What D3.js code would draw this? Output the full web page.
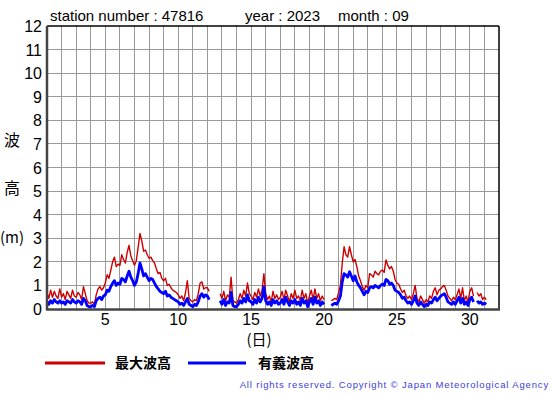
<!DOCTYPE html>
<html><head><meta charset="utf-8">
<script src="https://cdn.jsdelivr.net/npm/d3@7"></script>
<style>body{margin:0;background:#fff;}svg{display:block;font-family:"Liberation Sans",Arial,sans-serif;}</style>
</head><body>
<script>
// 3-hourly values starting day 1 00h (null = missing)
const startDay = 1, stepDays = 0.125;
const maxWave = [
 0.70,0.45,0.80,0.50,0.75,0.55,0.45,0.85,
 0.50,0.65,0.40,0.75,0.60,0.45,0.80,0.55,
 0.50,0.70,0.60,0.40,0.95,0.65,0.35,0.25,
 0.25,0.30,0.20,0.60,0.85,0.95,0.80,0.90,
 1.10,1.45,1.30,1.65,2.00,2.20,1.80,1.90,
 1.85,2.30,2.10,1.95,2.40,2.70,2.25,2.05,
 1.85,2.05,2.60,3.20,2.90,2.45,2.50,2.30,
 2.15,2.20,2.05,1.95,1.70,1.50,1.55,1.30,
 1.20,1.30,1.00,1.05,0.90,0.80,0.75,0.70,
 0.60,0.45,0.55,0.35,0.70,1.20,0.45,0.35,
 0.30,0.40,0.35,0.65,1.10,1.15,0.85,0.90,
 0.90,0.75,null,null,null,null,null,0.65,
 0.45,0.75,0.35,0.60,0.50,1.35,0.35,0.30,
 0.25,0.40,0.65,0.45,0.80,0.55,1.10,0.65,
 0.55,0.40,0.70,0.50,0.85,0.55,0.80,1.50,
 0.65,0.40,0.55,0.30,0.75,0.45,0.60,0.40,
 0.50,0.75,0.40,0.80,0.55,0.30,0.65,0.45,
 0.80,0.45,0.55,0.35,0.80,0.45,0.65,0.25,
 0.55,0.80,0.40,0.85,0.45,0.65,0.35,0.55,
 0.40,null,0.45,null,0.35,0.40,0.45,0.40,
 0.70,1.00,1.95,2.64,2.30,2.20,2.64,2.30,
 2.00,2.10,1.80,1.40,1.20,0.95,0.80,1.00,
 0.90,1.50,1.45,1.35,1.60,1.50,1.45,1.60,
 1.65,1.55,2.08,1.85,1.70,1.80,1.60,1.25,
 1.10,1.05,0.85,0.70,0.80,0.55,0.45,0.55,
 0.40,0.65,1.00,0.45,0.30,0.55,0.40,0.25,
 0.40,0.30,0.55,0.45,0.75,0.90,0.60,0.80,
 0.85,0.95,1.00,0.80,0.55,0.45,0.35,0.50,
 0.40,0.60,0.85,0.45,0.90,0.35,0.55,0.30,
 0.75,0.90,0.55,null,0.70,0.55,0.65,0.40,
 0.50,0.40
];
const sigWave = [
 0.30,0.20,0.35,0.25,0.40,0.30,0.25,0.35,
 0.25,0.30,0.20,0.35,0.30,0.25,0.40,0.30,
 0.25,0.35,0.30,0.20,0.45,0.35,0.15,0.10,
 0.10,0.15,0.10,0.35,0.45,0.50,0.40,0.55,
 0.60,0.80,0.75,0.95,1.10,1.20,1.00,1.10,
 1.05,1.30,1.25,1.15,1.40,1.60,1.35,1.20,
 1.00,1.15,1.50,1.95,1.70,1.40,1.50,1.35,
 1.20,1.30,1.25,1.10,0.95,0.85,0.75,0.70,
 0.65,0.75,0.55,0.60,0.50,0.45,0.40,0.35,
 0.30,0.20,0.25,0.15,0.30,0.45,0.20,0.15,
 0.10,0.20,0.15,0.30,0.55,0.65,0.50,0.60,
 0.55,0.40,null,null,null,null,null,0.35,
 0.20,0.40,0.15,0.30,0.25,0.70,0.15,0.10,
 0.10,0.20,0.35,0.25,0.45,0.30,0.60,0.35,
 0.30,0.20,0.40,0.25,0.50,0.30,0.45,0.95,
 0.35,0.20,0.30,0.15,0.40,0.25,0.35,0.20,
 0.25,0.40,0.20,0.50,0.30,0.15,0.35,0.25,
 0.40,0.20,0.30,0.15,0.45,0.25,0.35,0.10,
 0.30,0.45,0.20,0.50,0.25,0.35,0.15,0.30,
 0.20,null,0.25,null,0.15,0.20,0.25,0.20,
 0.35,0.55,1.15,1.50,1.45,1.35,1.58,1.40,
 1.20,1.40,1.15,1.00,0.90,0.75,0.60,0.75,
 0.70,0.90,0.95,0.90,1.00,0.95,0.90,1.00,
 1.05,1.00,1.25,1.20,1.05,1.10,1.00,0.80,
 0.75,0.70,0.60,0.45,0.50,0.35,0.25,0.30,
 0.20,0.35,0.55,0.25,0.15,0.30,0.20,0.10,
 0.20,0.15,0.30,0.25,0.40,0.50,0.35,0.45,
 0.55,0.60,0.65,0.50,0.30,0.25,0.20,0.30,
 0.20,0.35,0.50,0.25,0.45,0.20,0.30,0.15,
 0.40,0.50,0.30,null,0.35,0.25,0.30,0.20,
 0.25,0.20
];
const yTicks = [0,1,2,3,4,5,6,7,8,9,10,11,12];
const xTickLabels = [5,10,15,20,25,30];
const seriesNames = ["最大波高","有義波高"];
const seriesColors = ["#cc0000","#0000ff"];
const titleParts = ["station number : 47816","year : 2023","month : 09"];

const W=555,H=395;
const svg=d3.select("body").append("svg").attr("width",W).attr("height",H);
const x=d3.scaleLinear().domain([1,32]).range([47,499]);
const y=d3.scaleLinear().domain([0,12]).range([309,26]);

// grid
const g=svg.append("g");
g.selectAll("line.v").data(d3.range(2,32)).enter().append("line")
 .attr("x1",d=>x(d)).attr("x2",d=>x(d)).attr("y1",y(12)).attr("y2",y(0))
 .attr("stroke","#999").attr("stroke-width",1).attr("shape-rendering","crispEdges");
g.selectAll("line.h").data(yTicks.slice(1,-1)).enter().append("line")
 .attr("x1",x(1)).attr("x2",x(32)).attr("y1",d=>y(d)).attr("y2",d=>y(d))
 .attr("stroke","#999").attr("stroke-width",1).attr("shape-rendering","crispEdges");

// frame
svg.append("line").attr("x1",x(1)).attr("x2",x(32)).attr("y1",y(12)).attr("y2",y(12)).attr("stroke","#000").attr("stroke-width",1.5);
svg.append("line").attr("x1",x(32)).attr("x2",x(32)).attr("y1",y(12)).attr("y2",y(0)).attr("stroke","#000").attr("stroke-width",1.5);

// data
const pts = arr => arr.map((v,i)=>({t:startDay+i*stepDays,v}));
const line=d3.line().defined(d=>d.v!==null).x(d=>x(d.t)).y(d=>y(d.v));
svg.append("path").datum(pts(maxWave)).attr("d",line).attr("fill","none")
 .attr("stroke",seriesColors[0]).attr("stroke-width",1.4).attr("stroke-linejoin","round");
svg.append("path").datum(pts(sigWave)).attr("d",line).attr("fill","none")
 .attr("stroke",seriesColors[1]).attr("stroke-width",2.8).attr("stroke-linejoin","round");

// axes
svg.append("line").attr("x1",x(1)).attr("x2",x(1)).attr("y1",y(12)).attr("y2",y(0)+1).attr("stroke","#444").attr("stroke-width",2.5);
svg.append("line").attr("x1",x(1)-1).attr("x2",x(32)+1).attr("y1",y(0)+0.5).attr("y2",y(0)+0.5).attr("stroke","#444").attr("stroke-width",2.5);

svg.selectAll("text.yt").data(yTicks).enter().append("text")
 .attr("x",42).attr("y",d=>y(d)+6).attr("text-anchor","end")
 .attr("font-size",16).attr("fill","#000").text(d=>d);
svg.selectAll("text.xt").data(xTickLabels).enter().append("text")
 .attr("x",d=>x(d)).attr("y",325).attr("text-anchor","middle")
 .attr("font-size",16).attr("fill","#000").text(d=>d);

// title
svg.append("text").attr("x",50).attr("y",21).attr("font-size",15).text(titleParts[0]);
svg.append("text").attr("x",245).attr("y",21).attr("font-size",15).text(titleParts[1]);
svg.append("text").attr("x",338).attr("y",21).attr("font-size",15).text(titleParts[2]);

// axis titles
const jp='"Noto Sans CJK JP",sans-serif';
svg.append("text").attr("x",12).attr("y",146).attr("text-anchor","middle").attr("font-family",jp).attr("font-size",16).text("波");
svg.append("text").attr("x",12).attr("y",194).attr("text-anchor","middle").attr("font-family",jp).attr("font-size",16).text("高");
svg.append("text").attr("x",12).attr("y",243).attr("text-anchor","middle").attr("font-family",jp).attr("font-size",15).text("(m)");
svg.append("text").attr("x",259).attr("y",345).attr("text-anchor","middle").attr("font-family",jp).attr("font-size",15).text("(日)");

// legend
const lg=[{x1:45,x2:105,tx:115},{x1:188,x2:246,tx:258}];
lg.forEach((l,i)=>{
 svg.append("line").attr("x1",l.x1).attr("x2",l.x2).attr("y1",363).attr("y2",363).attr("stroke",seriesColors[i]).attr("stroke-width",3);
 svg.append("text").attr("x",l.tx).attr("y",368).attr("font-family",jp).attr("font-weight","bold").attr("font-size",14).text(seriesNames[i]);
});
svg.append("text").attr("x",549).attr("y",388).attr("text-anchor","end").attr("font-size",9.5)
 .attr("letter-spacing","0.85px").attr("fill","#4040e0").text("All rights reserved. Copyright © Japan Meteorological Agency");
</script>
</body></html>
